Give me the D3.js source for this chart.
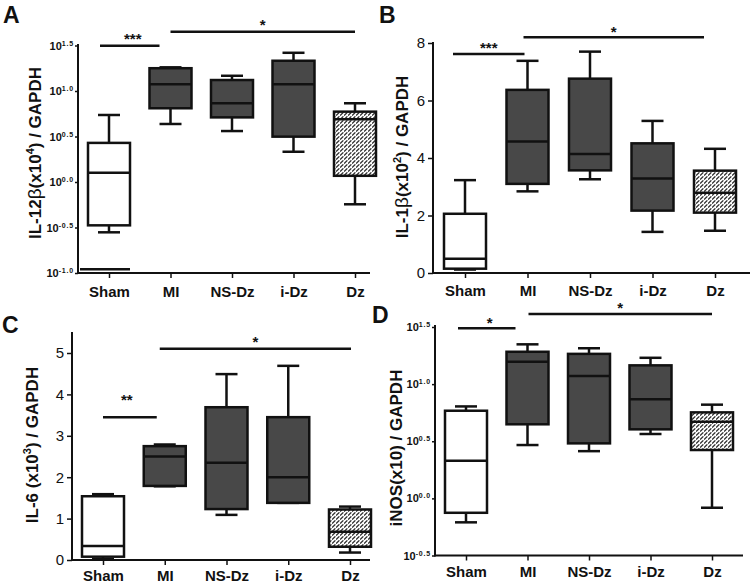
<!DOCTYPE html>
<html>
<head>
<meta charset="utf-8">
<script src="https://cdn.jsdelivr.net/npm/d3@7"></script>
<style>
  body { margin: 0; background: #fff; }
  text { font-family: Arial, "Liberation Sans", sans-serif; fill: #111; }
</style>
</head>
<body>
<div id="chart"></div>
<script>

const groups = ["Sham", "MI", "NS-Dz", "i-Dz", "Dz"];
const fillKind = ["white", "dark", "dark", "dark", "hatch"];

// A: IL-12b, log axis
const aMin = [0.28, 4.34, 3.63, 2.15, 0.569];
const aQ1  = [0.334, 6.46, 5.13, 3.15, 1.17];
const aMed = [1.26, 11.9, 7.33, 11.9, 4.89];
const aQ3  = [2.69, 17.8, 13.2, 21.5, 5.93];
const aMax = [5.45, 18.2, 14.7, 26.3, 7.33];
const aShamLow = 0.11;
const aTickLabels = ["-1.0", "-0.5", "0.0", "0.5", "1.0", "1.5"];
const aSig = [{from: "Sham", to: "MI", stars: "***", at: 31.5},
              {from: "MI", to: "Dz", stars: "*", at: 44.9}];

// B: IL-1b, linear
const bMin = [0.12, 2.84, 3.26, 1.43, 1.47];
const bQ1  = [0.15, 3.10, 3.57, 2.17, 2.10];
const bMed = [0.50, 4.57, 4.14, 3.29, 2.79];
const bQ3  = [2.06, 6.37, 6.76, 4.51, 3.56];
const bMax = [3.23, 7.38, 7.70, 5.29, 4.32];
const bTicks = [0, 2, 4, 6, 8];
const bSig = [{from: "Sham", to: "MI", stars: "***", at: 7.62},
              {from: "MI", to: "Dz", stars: "*", at: 8.2}];

// C: IL-6, linear
const cMin = [0.02, 1.78, 1.09, 1.38, 0.18];
const cQ1  = [0.08, 1.79, 1.23, 1.38, 0.32];
const cMed = [0.34, 2.50, 2.35, 2.00, 0.68];
const cQ3  = [1.54, 2.75, 3.69, 3.45, 1.22];
const cMax = [1.59, 2.79, 4.49, 4.69, 1.29];
const cTicks = [0, 1, 2, 3, 4, 5];
const cSig = [{from: "Sham", to: "MI", stars: "**", at: 3.45},
              {from: "MI", to: "Dz", stars: "*", at: 5.1}];

// D: iNOS, log axis
const dMin = [0.617, 2.93, 2.59, 3.66, 0.828];
const dQ1  = [0.748, 4.45, 3.03, 4.02, 2.65];
const dMed = [2.14, 15.7, 11.8, 7.36, 4.69];
const dQ3  = [5.85, 19.2, 18.4, 14.6, 5.66];
const dMax = [6.38, 22.3, 20.6, 17.0, 6.61];
const dTickLabels = ["-0.5", "0.0", "0.5", "1.0", "1.5"];
const dSig = [{from: "Sham", to: "MI", stars: "*", at: 30.8},
              {from: "MI", to: "Dz", stars: "*", at: 41.1}];

const svg = d3.select("#chart").append("svg")
    .attr("width", 750)
    .attr("height", 584);

const defs = svg.append("defs");
const pat = defs.append("pattern")
    .attr("id", "hatch")
    .attr("patternUnits", "userSpaceOnUse")
    .attr("width", 4)
    .attr("height", 4);
pat.append("rect").attr("width", 4).attr("height", 4).attr("fill", "#fff");
pat.append("path").attr("d", "M0,3.6 L3.4,0.4").attr("stroke", "#2a2a2a").attr("stroke-width", 1.3);

const DARK = "#484848";
const INK = "#111";

function colourOf(k) {
  if (k === "white") return "#fff";
  if (k === "dark") return DARK;
  return "url(#hatch)";
}

function drawPanel(p) {
  const g = svg.append("g");
  const x = d3.scalePoint().domain(groups).range(p.xr);
  const y = p.y;

  // panel letter
  g.append("text").attr("x", p.letter[1]).attr("y", p.letter[2])
    .attr("font-size", 23).attr("font-weight", "bold").text(p.letter[0]);

  // y axis ticks
  const ya = d3.axisLeft(y).tickValues(p.tickVals).tickSize(p.tickLen)
    .tickSizeOuter(0).tickPadding(p.log ? 1 : 3)
    .tickFormat(p.log ? () => "" : d3.format("d"));
  const yg = g.append("g").attr("transform", "translate(" + p.left + ",0)").call(ya);
  yg.select(".domain").remove();
  yg.selectAll(".tick line").attr("stroke", INK).attr("stroke-width", 1.5);
  if (p.log) {
    yg.selectAll(".tick text").each(function(d, i) {
      const t = d3.select(this).attr("font-family", "'Liberation Serif', 'DejaVu Serif', serif")
        .attr("font-weight", "bold").attr("font-size", 11).attr("fill", "#333");
      t.append("tspan").text("10");
      t.append("tspan").attr("dy", -4).attr("font-size", 7)
        .attr("letter-spacing", 0.8).text(p.tickLabels[i]);
    });
  } else {
    yg.selectAll(".tick text").attr("font-size", 15).attr("fill", "#222");
  }

  // axis lines
  g.append("line").attr("x1", p.left).attr("x2", p.left)
    .attr("y1", p.top).attr("y2", p.bottom + 1)
    .attr("stroke", INK).attr("stroke-width", 2);
  g.append("line").attr("x1", p.left).attr("x2", p.right)
    .attr("y1", p.bottom).attr("y2", p.bottom)
    .attr("stroke", INK).attr("stroke-width", 2);

  // x axis ticks and labels
  const xa = d3.axisBottom(x).tickSize(5).tickSizeOuter(0).tickPadding(p.xPad);
  const xg = g.append("g").attr("transform", "translate(0," + p.bottom + ")").call(xa);
  xg.select(".domain").remove();
  xg.selectAll(".tick line").attr("stroke", INK).attr("stroke-width", 1.5);
  xg.selectAll(".tick text").attr("font-size", 15).attr("font-weight", "bold").attr("fill", "#111");

  // y title
  const tt = g.append("text")
    .attr("transform", "translate(" + p.title[0] + "," + p.title[1] + ") rotate(-90)")
    .attr("text-anchor", "middle").attr("dy", "0.36em")
    .attr("font-size", 17).attr("font-weight", "bold");
  p.titleParts.forEach(function(part) {
    const s = tt.append("tspan").text(part.t);
    if (part.greek) s.attr("font-weight", "normal").attr("font-size", 19);
    if (part.sup) s.attr("dy", -7).attr("font-size", 11);
    if (part.down) s.attr("dy", 7);
  });

  // boxes
  const w = 42, cap = 22;
  const rows = groups.map(function(gname, i) {
    return {g: gname, k: fillKind[i], min: p.stats[0][i], q1: p.stats[1][i],
            med: p.stats[2][i], q3: p.stats[3][i], max: p.stats[4][i]};
  });
  const bx = g.selectAll(".box").data(rows).enter().append("g").attr("class", "box");
  bx.append("line").attr("x1", d => x(d.g)).attr("x2", d => x(d.g))
    .attr("y1", d => y(d.max)).attr("y2", d => y(d.min))
    .attr("stroke", INK).attr("stroke-width", 2.5);
  bx.append("line").attr("x1", d => x(d.g) - cap / 2).attr("x2", d => x(d.g) + cap / 2)
    .attr("y1", d => y(d.max)).attr("y2", d => y(d.max))
    .attr("stroke", INK).attr("stroke-width", 2.5);
  bx.append("line").attr("x1", d => x(d.g) - cap / 2).attr("x2", d => x(d.g) + cap / 2)
    .attr("y1", d => y(d.min)).attr("y2", d => y(d.min))
    .attr("stroke", INK).attr("stroke-width", 2.5);
  bx.append("rect").attr("x", d => x(d.g) - w / 2).attr("width", w)
    .attr("y", d => y(d.q3)).attr("height", d => y(d.q1) - y(d.q3))
    .attr("fill", d => colourOf(d.k))
    .attr("stroke", INK).attr("stroke-width", 2.5);
  bx.append("line").attr("x1", d => x(d.g) - w / 2).attr("x2", d => x(d.g) + w / 2)
    .attr("y1", d => y(d.med)).attr("y2", d => y(d.med))
    .attr("stroke", INK).attr("stroke-width", 2.5);

  // significance bars
  p.sig.forEach(function(s, i) {
    const off = p.sigOff[i];
    const x1 = x(s.from) + off[0], x2 = x(s.to) + off[1];
    g.append("line").attr("x1", x1).attr("x2", x2)
      .attr("y1", y(s.at)).attr("y2", y(s.at))
      .attr("stroke", INK).attr("stroke-width", 2.5);
    g.append("text").attr("x", (x1 + x2) / 2 + off[2]).attr("y", y(s.at) - off[3])
      .attr("text-anchor", "middle").attr("font-size", 15).attr("font-weight", "bold")
      .text(s.stars);
  });

  return {g: g, x: x, y: y};
}

const pa = drawPanel({
  letter: ["A", 3, 23], left: 78, right: 370, top: 44, bottom: 273, xPad: 8,
  xr: [109, 355],
  y: d3.scaleLog().domain([Math.pow(10, -1), Math.pow(10, 1.5)]).range([273, 45.5]),
  log: true, tickLabels: aTickLabels,
  tickVals: aTickLabels.map(v => Math.pow(10, +v)), tickLen: 3,
  title: [35, 153],
  titleParts: [{t: "IL-12"}, {t: "β", greek: true}, {t: "(x10"}, {t: "4", sup: true}, {t: ") / GAPDH", down: true}],
  stats: [aMin, aQ1, aMed, aQ3, aMax],
  sig: aSig, sigOff: [[-9, -11, 3, 1.5], [0, 0, 0, 1.5]]
});
// stray low mark under the Sham box
pa.g.append("line").attr("x1", 80).attr("x2", pa.x("Sham") + 21)
  .attr("y1", pa.y(aShamLow)).attr("y2", pa.y(aShamLow))
  .attr("stroke", INK).attr("stroke-width", 2.5);

drawPanel({
  letter: ["B", 379, 23], left: 433, right: 750, top: 42, bottom: 273, xPad: 7,
  xr: [465, 715],
  y: d3.scaleLinear().domain([0, 8]).range([273, 43]),
  log: false, tickVals: bTicks, tickLen: 5,
  title: [402, 157],
  titleParts: [{t: "IL-1"}, {t: "β", greek: true}, {t: "(x10"}, {t: "2", sup: true}, {t: ") / GAPDH", down: true}],
  stats: [bMin, bQ1, bMed, bQ3, bMax],
  sig: bSig, sigOff: [[-12, -3, 0, 1], [-4, -11, 0, 0]]
});

drawPanel({
  letter: ["C", 2, 333], left: 72, right: 370, top: 332, bottom: 560, xPad: 5,
  xr: [103, 350],
  y: d3.scaleLinear().domain([0, 5]).range([560, 353]),
  log: false, tickVals: cTicks, tickLen: 5,
  title: [32, 445],
  titleParts: [{t: "IL-6"}, {t: " (x10"}, {t: "3", sup: true}, {t: ") / GAPDH", down: true}],
  stats: [cMin, cQ1, cMed, cQ3, cMax],
  sig: cSig, sigOff: [[0, -8, -3, 12], [-5, 1, 0, 2]]
});

drawPanel({
  letter: ["D", 372, 323], left: 435, right: 743, top: 325, bottom: 555.5, xPad: 6,
  xr: [466, 712],
  y: d3.scaleLog().domain([Math.pow(10, -0.5), Math.pow(10, 1.5)]).range([555.5, 327]),
  log: true, tickLabels: dTickLabels,
  tickVals: dTickLabels.map(v => Math.pow(10, +v)), tickLen: 3,
  title: [396, 448],
  titleParts: [{t: "iNOS(x10) / GAPDH"}],
  stats: [dMin, dQ1, dMed, dQ3, dMax],
  sig: dSig, sigOff: [[-8, -12, 3, 0], [1, 0, 0, 1]]
});

</script>
</body>
</html>
